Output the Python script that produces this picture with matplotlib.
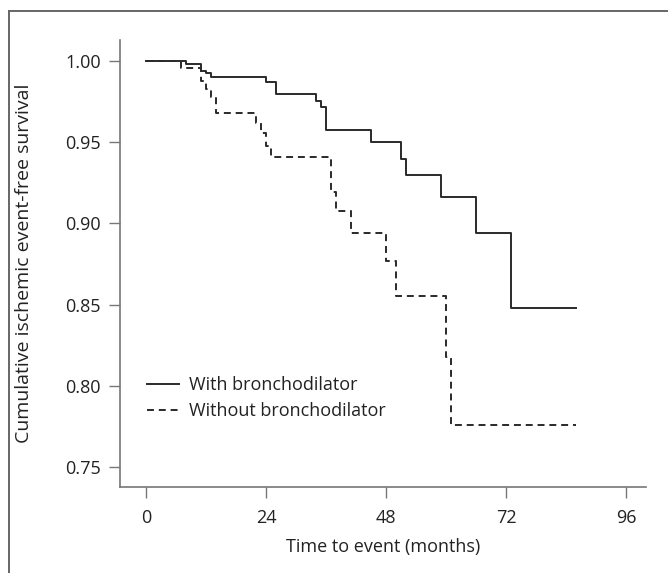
import matplotlib.pyplot as plt
from matplotlib.lines import Line2D

plt.rcParams['font.family'] = ['Open Sans', 'DejaVu Sans']
plt.rcParams['lines.scale_dashes'] = False

# step data (months, survival)
with_times = [0, 8, 11, 12, 13, 24, 26, 34, 35, 36, 45, 51, 52, 59, 66, 73, 86]
with_surv = [1.0, 0.998, 0.994, 0.9925, 0.990, 0.987, 0.980, 0.9754, 0.972,
             0.9575, 0.950, 0.940, 0.930, 0.9164, 0.894, 0.848, 0.848]

without_times = [0, 7, 11, 12, 13, 14, 22, 23, 24, 25, 37, 38, 41, 48, 50,
                 60, 61, 86]
without_surv = [1.0, 0.996, 0.988, 0.983, 0.978, 0.968, 0.9616, 0.9555, 0.948,
                0.941, 0.9195, 0.9078, 0.894, 0.8768, 0.8555, 0.8175, 0.776,
                0.776]

xticks = [0, 24, 48, 72, 96]
yticks = [0.75, 0.80, 0.85, 0.90, 0.95, 1.00]

W, H = 668, 573
fig = plt.figure(figsize=(W / 100, H / 100), dpi=100)
ax = fig.add_axes([120 / W, 1 - 487 / H, 526 / W, 447 / H])

line_col = '#2a2a2a'
spine_col = '#777777'
text_col = '#222222'
fs = 13

ax.step(with_times, with_surv, where='post', color=line_col, lw=1.4,
        label='With bronchodilator')
ax.step(without_times, without_surv, where='post', color=line_col, lw=1.4,
        dashes=(5, 3.5), label='Without bronchodilator')

ax.set_xlim(-5.2, 100)
ax.set_ylim(0.7377, 1.013)
ax.set_xticks(xticks)
ax.set_xticklabels([str(t) for t in xticks])
ax.set_yticks(yticks)
ax.set_yticklabels(['%.2f' % v for v in yticks])

for side in ['top', 'right']:
    ax.spines[side].set_visible(False)
for side in ['left', 'bottom']:
    ax.spines[side].set_color(spine_col)
    ax.spines[side].set_linewidth(1.2)
ax.tick_params(direction='out', length=8, width=1.0, color=spine_col,
               labelsize=fs, labelcolor=text_col)
ax.tick_params(axis='x', pad=8)
ax.tick_params(axis='y', pad=6)

ax.set_xlabel('Time to event (months)', fontsize=fs, color=text_col,
              labelpad=8)
ax.set_ylabel('Cumulative ischemic event-free survival', fontsize=14,
              color=text_col, labelpad=23)

ax.legend(loc='center left', bbox_to_anchor=(0.0513, 0.199), frameon=False,
          fontsize=fs, handlelength=1.8, handletextpad=0.5, labelspacing=0.45,
          borderpad=0, borderaxespad=0, labelcolor=text_col)

# outer frame (top and left edges only)
fig.add_artist(Line2D([9 / W, 1.0], [1 - 11 / H, 1 - 11 / H],
                      transform=fig.transFigure, color='#666666', lw=1.4))
fig.add_artist(Line2D([9 / W, 9 / W], [0.0, 1 - 11 / H],
                      transform=fig.transFigure, color='#666666', lw=1.4))

fig.savefig('out.png', dpi=100)
